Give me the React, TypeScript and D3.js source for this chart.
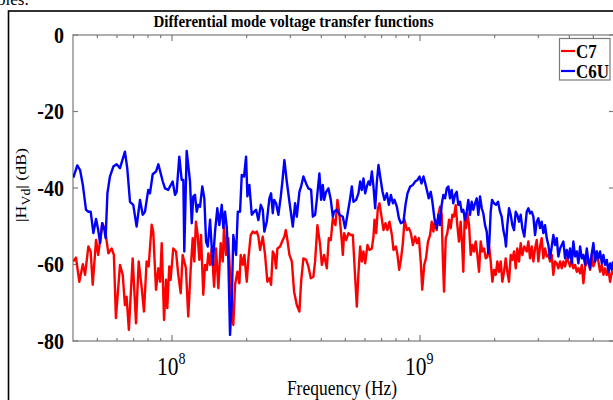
import React from 'react';
import * as d3 from 'd3';

// Frequencies in MHz, magnitudes in dB
const c7Freq = [
  40.0,41.0,42.3,43.7,44.6,46.0,47.0,47.9,49.4,50.4,
  52.4,53.7,55.4,57.1,58.3,59.4,61.7,63.3,64.6,65.6,
  67.0,69.4,71.6,73.4,75.5,77.1,79.0,80.5,82.8,84.0,
  86.2,88.1,89.5,90.9,92.9,94.6,95.7,97.5,98.7,101.2,
  103.8,106.0,108.4,110.4,113.8,116.3,119.0,121.2,123.0,124.9,
  126.9,128.9,130.9,133.7,135.9,138.1,140.1,142.4,144.7,147.8,
  150.5,153.8,157.2,160.2,162.1,165.1,168.7,172.5,176.7,179.6,
  183.5,186.9,189.3,192.9,195.8,200.2,203.3,207.7,211.6,216.3,
  219.7,223.0,226.5,232.3,237.3,242.4,247.0,250.9,254.9,258.7,
  262.8,266.1,272.8,279.7,283.9,287.7,292.0,297.5,304.2,310.7,
  318.6,326.4,331.6,338.7,347.3,354.8,362.8,371.7,377.6,385.8,
  395.6,401.9,410.6,421.0,428.9,436.9,445.1,456.1,464.7,473.4,
  484.0,488.5,494.5,503.6,514.6,526.2,536.1,546.1,556.3,564.7,
  573.7,582.8,591.6,601.0,614.0,625.5,639.6,649.2,655.3,665.6,
  676.2,686.4,699.3,712.5,725.7,739.4,753.2,770.3,781.9,799.4,
  811.4,824.3,837.4,853.1,865.9,885.4,902.0,918.9,936.2,956.4,
  971.6,989.9,1008,1021,1040,1057,1077,1098,1115,1132,
  1150,1168,1186,1204,1223,1235,1250,1270,1289,1310,
  1330,1350,1371,1393,1414,1436,1459,1481,1495,1515,
  1533,1552,1577,1601,1626,1651,1678,1703,1730,1757,
  1784,1812,1841,1869,1898,1928,1958,1989,2020,2051,
  2083,2116,2148,2182,2216,2250,2285,2322,2357,2394,
  2432,2468,2508,2547,2586,2634,2694,2735,2778,2822,
  2865,2910,2956,3001,3048,3096,3143,3193,3244,3293,
  3345,3398,3449,3504,3560,3613,3671,3729,3786,3845,
  3906,3965,4028,4092,4154,4220,4287,4352,4421,4491,
  4559,4631,4705,4775,4851,4928,5002,5082,5163,5241,
  5324,5409,5490,5577,5666,5751,5843,5936,6000,
];
const c7Db = [
  -59.2,-58.2,-64.5,-59.9,-62.7,-55.3,-56.6,-65.3,-53.6,-57.5,
  -49.2,-50.9,-57.1,-55.8,-57.5,-74.0,-60.1,-62.7,-70.6,-68.4,
  -77.1,-58.4,-75.4,-59.2,-66.2,-72.3,-59.2,-60.5,-49.6,-51.4,
  -66.6,-61.0,-64.5,-54.4,-74.5,-64.0,-71.4,-60.5,-64.0,-55.8,
  -56.6,-62.7,-67.5,-57.5,-61.0,-73.6,-61.0,-53.1,-59.2,-48.8,
  -52.3,-58.8,-52.3,-67.9,-60.1,-61.4,-57.1,-60.1,-55.8,-65.8,
  -55.8,-66.2,-54.4,-59.2,-50.1,-57.5,-53.1,-66.2,-75.8,-65.3,
  -61.9,-64.9,-57.5,-60.1,-57.5,-64.5,-58.4,-52.3,-51.4,-51.8,
  -51.4,-52.7,-56.2,-52.7,-57.5,-64.5,-63.6,-65.3,-56.6,-57.5,
  -61.0,-55.8,-55.3,-53.6,-52.7,-51.0,-53.6,-57.5,-59.2,-67.1,
  -70.6,-72.3,-64.5,-58.4,-58.8,-60.5,-63.6,-63.2,-59.2,-49.7,
  -54.9,-60.1,-57.5,-61.0,-53.1,-53.6,-47.9,-49.7,-43.1,-47.0,
  -54.0,-57.5,-51.8,-53.6,-51.8,-52.3,-52.3,-61.9,-71.0,-62.3,
  -55.3,-59.2,-56.6,-59.7,-54.9,-56.2,-55.8,-52.7,-48.3,-51.8,
  -45.3,-44.0,-47.5,-51.0,-49.2,-51.0,-48.8,-52.3,-56.2,-55.3,
  -57.5,-61.4,-58.8,-54.4,-48.3,-51.0,-50.5,-51.8,-54.9,-52.7,
  -54.4,-53.1,-59.7,-66.6,-60.1,-58.4,-54.0,-52.3,-48.8,-51.4,
  -48.3,-51.0,-47.0,-44.9,-47.0,-57.5,-67.1,-53.1,-51.8,-48.3,
  -50.5,-47.0,-47.5,-44.5,-49.7,-54.0,-48.8,-55.8,-61.9,-47.0,
  -50.5,-46.6,-49.7,-57.5,-54.9,-56.6,-54.0,-57.5,-61.9,-54.0,
  -56.6,-55.8,-58.4,-58.0,-54.9,-59.2,-64.5,-61.4,-62.7,-59.2,
  -61.9,-59.2,-64.5,-61.9,-58.4,-61.9,-64.5,-57.5,-58.8,-56.6,
  -61.0,-55.8,-59.2,-54.4,-57.5,-55.3,-56.6,-54.0,-58.4,-55.3,
  -59.2,-55.8,-53.6,-59.2,-55.3,-53.1,-58.4,-55.8,-57.9,-57.5,
  -59.2,-57.5,-62.7,-59.2,-59.7,-61.0,-59.2,-61.0,-59.2,-60.5,
  -58.4,-59.2,-60.5,-58.8,-61.0,-60.1,-61.9,-61.0,-62.3,-60.1,
  -64.9,-60.5,-59.7,-58.4,-61.4,-57.5,-60.5,-59.2,-56.6,-59.2,
  -61.9,-60.1,-62.7,-61.0,-62.7,-61.4,-64.5,-61.9,-62.7,
];

const c6uFreq = [
  40.0,41.5,42.6,43.7,45.0,46.0,47.0,48.2,49.4,50.4,
  51.3,52.3,53.4,54.0,54.9,56.2,58.0,59.8,61.7,64.6,
  66.0,67.7,69.8,72.0,74.3,76.2,77.8,80.2,81.5,83.6,
  86.2,88.1,90.3,91.8,93.7,96.6,98.1,100.6,102.8,104.4,
  107.0,109.4,111.1,112.1,114.6,118.2,120.1,121.9,123.8,125.8,
  127.7,129.7,132.5,135.0,137.2,139.4,142.4,146.0,149.1,152.3,
  155.2,158.7,161.1,163.6,166.2,168.7,171.4,174.1,176.7,181.3,
  184.2,188.1,191.1,195.2,198.9,201.4,205.1,209.7,214.2,218.3,
  223.0,228.0,232.3,235.7,241.1,247.0,250.9,254.9,258.0,262.8,
  268.5,274.6,278.7,283.9,290.3,297.5,307.0,313.6,318.6,326.4,
  331.6,338.7,347.3,354.8,363.9,369.7,377.6,383.6,393.0,399.3,
  405.6,410.6,418.3,427.3,436.9,445.1,450.6,462.0,473.4,488.5,
  499.0,509.8,522.8,531.1,539.1,552.7,564.7,573.7,582.8,591.6,
  601.0,610.6,619.8,629.6,639.6,649.2,659.5,670.0,680.1,690.9,
  705.9,719.1,735.2,749.0,763.1,777.5,789.1,806.8,822.0,837.4,
  858.0,873.9,890.4,913.0,936.2,956.4,977.2,995.4,1014,1033,
  1050,1070,1084,1105,1122,1143,1168,1186,1204,1223,
  1242,1262,1282,1301,1321,1342,1362,1384,1406,1427,
  1450,1473,1495,1519,1543,1566,1591,1616,1641,1667,
  1693,1719,1746,1774,1800,1829,1858,1886,1904,1928,
  1952,1989,2026,2064,2102,2135,2168,2202,2222,2250,
  2285,2322,2357,2394,2432,2468,2508,2547,2586,2634,
  2694,2735,2778,2822,2865,2910,2956,3001,3048,3096,
  3143,3193,3244,3293,3345,3398,3449,3504,3560,3613,
  3671,3729,3786,3845,3906,3965,4028,4092,4154,4220,
  4287,4352,4421,4491,4559,4631,4705,4775,4851,4928,
  5002,5082,5163,5241,5324,5409,5490,5577,5666,5751,
  5843,5936,6000,
];
const c6uDb = [
  -37.3,-34.1,-35.3,-39.2,-45.7,-46.2,-46.2,-51.8,-48.1,-51.0,
  -54.4,-49.2,-51.0,-53.1,-41.4,-37.0,-34.4,-33.8,-34.8,-30.5,
  -34.8,-43.6,-44.4,-50.1,-43.1,-47.0,-46.2,-40.5,-41.4,-36.4,
  -35.7,-33.8,-36.5,-38.3,-40.1,-40.5,-39.6,-38.3,-41.8,-41.0,
  -31.8,-37.9,-37.9,-56.6,-30.3,-38.3,-49.2,-42.2,-41.8,-46.2,
  -44.4,-44.9,-39.6,-42.7,-54.0,-55.3,-48.3,-60.1,-51.4,-45.3,
  -49.7,-44.4,-50.5,-46.2,-50.1,-58.4,-78.4,-69.7,-52.3,-57.5,
  -46.2,-46.2,-36.6,-37.0,-31.8,-42.2,-39.2,-47.0,-46.2,-45.7,
  -48.4,-44.4,-45.7,-51.4,-48.8,-42.7,-41.4,-46.6,-43.1,-44.0,
  -47.0,-42.2,-38.3,-32.7,-38.3,-43.6,-50.1,-44.0,-47.5,-41.0,
  -39.6,-37.0,-38.8,-40.1,-40.5,-47.5,-47.0,-43.1,-36.2,-43.1,
  -39.2,-43.1,-41.0,-40.1,-43.1,-47.5,-46.2,-45.7,-47.0,-47.5,
  -50.5,-47.0,-42.7,-39.6,-43.6,-43.1,-41.4,-38.3,-40.5,-37.5,
  -41.4,-39.6,-38.3,-39.2,-35.7,-39.6,-45.3,-38.3,-34.0,-37.0,
  -40.9,-43.1,-41.4,-44.4,-41.8,-44.0,-43.1,-44.9,-47.9,-49.2,
  -48.8,-44.4,-41.4,-39.6,-39.2,-38.3,-37.9,-37.0,-38.8,-37.0,
  -38.8,-41.0,-42.7,-41.0,-43.6,-47.9,-50.5,-47.0,-49.7,-44.4,
  -41.8,-42.7,-40.1,-39.6,-42.7,-40.5,-44.0,-41.8,-41.0,-44.4,
  -43.6,-46.2,-45.7,-48.3,-46.2,-43.1,-47.0,-43.6,-45.7,-44.0,
  -42.7,-47.0,-42.2,-45.3,-46.6,-49.7,-51.4,-57.1,-54.0,-46.2,
  -43.1,-44.0,-44.4,-43.6,-46.2,-47.5,-51.0,-53.1,-55.3,-49.7,
  -45.3,-47.0,-49.7,-51.0,-46.2,-47.0,-48.8,-47.0,-50.5,-52.7,
  -46.2,-45.3,-46.6,-46.2,-47.5,-52.3,-48.8,-47.9,-50.5,-48.8,
  -51.8,-49.7,-53.1,-54.9,-58.4,-55.3,-52.3,-54.9,-53.1,-57.9,
  -55.8,-54.9,-54.0,-58.4,-56.2,-58.4,-55.8,-59.7,-54.0,-57.9,
  -56.6,-59.7,-55.3,-58.4,-57.5,-60.1,-55.8,-59.2,-61.0,-57.1,
  -54.4,-59.2,-56.6,-58.4,-56.6,-59.7,-57.5,-60.1,-58.8,-61.9,
  -59.7,-61.4,-59.2,
];

const seriesNames = ['C7', 'C6U'];
const seriesColors = ['#ff0000', '#0000ff'];
const yTicks = [0, -20, -40, -60, -80];
const xMajorTicks = [1e8, 1e9];
const xMajorExponents = ['8', '9'];
const xMinorTicks = [5e7, 6e7, 7e7, 8e7, 9e7, 2e8, 3e8, 4e8, 5e8, 6e8, 7e8, 8e8, 9e8, 2e9, 3e9, 4e9, 5e9];
const titleText = 'Differential mode voltage transfer functions';
const xLabelText = 'Frequency (Hz)';

const FONT = "'Liberation Serif', 'Times New Roman', serif";
const SY = 1.15;

export default function App() {
  const left = 73, top = 35, bottom = 341, right = 614;
  const x = d3.scaleLog().domain([1e8, 1e9]).range([172, 420]);
  const y = d3.scaleLinear().domain([-80, 0]).range([bottom, top]);
  const axisColor = '#7a7a7a';

  const toPts = (f: number[], v: number[]) =>
    d3.range(Math.min(f.length, v.length)).map((i) => [f[i] * 1e6, v[i]] as [number, number]);
  const line = d3
    .line<[number, number]>()
    .x((d) => x(d[0]))
    .y((d) => y(d[1]));
  const series = [toPts(c7Freq, c7Db), toPts(c6uFreq, c6uDb)];

  return (
    <svg
      width={613}
      height={400}
      style={{ position: 'fixed', left: 0, top: 0, background: '#fff' }}
      fontFamily={FONT}
    >
      <rect x={0} y={0} width={613} height={400} fill="#fff" />
      <text x={-3} y={5} fontSize={17} fill="#000">bles.</text>
      <rect x={8.5} y={11} width={700} height={500} fill="none" stroke="#000" strokeWidth={1.6} />

      <defs>
        <clipPath id="plotclip">
          <rect x={left} y={top} width={right - left} height={bottom - top} />
        </clipPath>
      </defs>

      {/* title */}
      <text
        transform={`translate(${(left + right) / 2 - 50},27) scale(1,${SY})`}
        textAnchor="middle"
        fontSize={15}
        fontWeight="bold"
        fill="#000"
      >
        {titleText}
      </text>

      {/* axes box */}
      <rect x={left} y={top} width={right - left} height={bottom - top} fill="none" stroke={axisColor} strokeWidth={1.2} />

      {/* y ticks */}
      {yTicks.map((t) => (
        <g key={'y' + t}>
          <line x1={left} x2={left + 5} y1={y(t)} y2={y(t)} stroke={axisColor} strokeWidth={1.2} />
          <line x1={right - 5} x2={right} y1={y(t)} y2={y(t)} stroke={axisColor} strokeWidth={1.2} />
          <text
            transform={`translate(64,${y(t) + 7.5}) scale(1,${SY})`}
            textAnchor="end"
            fontSize={20}
            fontWeight="bold"
            fill="#000"
          >
            {t}
          </text>
        </g>
      ))}

      {/* x ticks */}
      {xMinorTicks.map((t) => (
        <g key={'xm' + t}>
          <line x1={x(t)} x2={x(t)} y1={bottom} y2={bottom - 3} stroke={axisColor} strokeWidth={1.2} />
          <line x1={x(t)} x2={x(t)} y1={top} y2={top + 3} stroke={axisColor} strokeWidth={1.2} />
        </g>
      ))}
      {xMajorTicks.map((t, i) => (
        <g key={'xM' + t}>
          <line x1={x(t)} x2={x(t)} y1={bottom} y2={bottom - 6} stroke={axisColor} strokeWidth={1.2} />
          <line x1={x(t)} x2={x(t)} y1={top} y2={top + 6} stroke={axisColor} strokeWidth={1.2} />
          <text transform={`translate(${x(t) - 15},375) scale(1,${SY})`} fontSize={21.5} fill="#000">
            10
            <tspan dy={-10} fontSize={14}>{xMajorExponents[i]}</tspan>
          </text>
        </g>
      ))}

      {/* axis labels */}
      <text transform={`translate(342,395) scale(1,${SY})`} textAnchor="middle" fontSize={17.5} fill="#000">
        {xLabelText}
      </text>
      <text transform={`translate(26,185) rotate(-90) scale(${SY},1)`} textAnchor="middle" fontSize={15.5} fill="#000">
        |H<tspan dy={4} fontSize={12}>Vd</tspan>
        <tspan dy={-4}>| (dB)</tspan>
      </text>

      {/* data */}
      <g clipPath="url(#plotclip)">
        {series.map((pts, i) => (
          <path
            key={seriesNames[i]}
            d={line(pts) || ''}
            fill="none"
            stroke={seriesColors[i]}
            strokeWidth={2.4}
            strokeLinejoin="round"
          />
        ))}
      </g>

      {/* legend */}
      <g>
        <rect x={559.5} y={38.5} width={50.5} height={41.5} fill="#fff" stroke={axisColor} strokeWidth={1.2} />
        {seriesNames.map((name, i) => (
          <g key={'lg' + name}>
            <line x1={561} x2={575} y1={51 + i * 20} y2={51 + i * 20} stroke={seriesColors[i]} strokeWidth={2.2} />
            <text
              transform={`translate(576,${57.5 + i * 20}) scale(1,${SY})`}
              fontSize={17}
              fontWeight="bold"
              fill="#000"
            >
              {name}
            </text>
          </g>
        ))}
      </g>
    </svg>
  );
}
